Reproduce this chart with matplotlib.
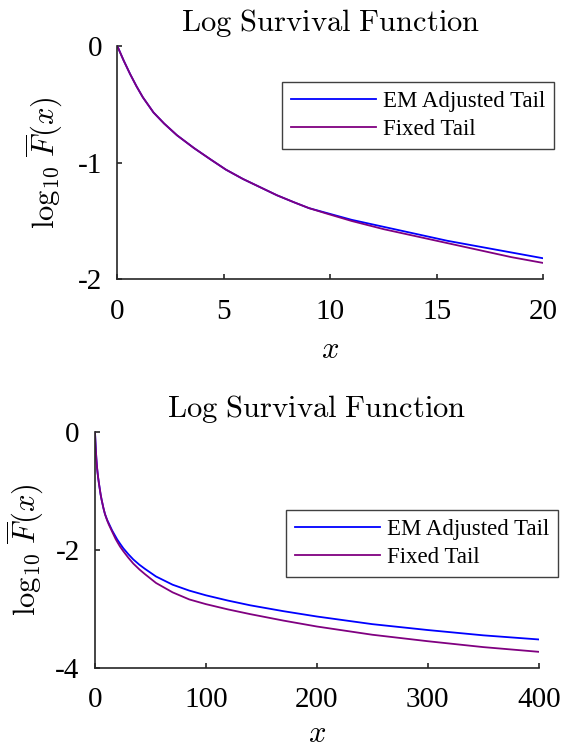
import matplotlib
matplotlib.use("Agg")
import matplotlib.pyplot as plt
import numpy as np

# ------------------------------
# Data
# ------------------------------
x_vals = [0, 0.3, 0.6, 0.9, 1.2, 1.7, 2.2, 2.8, 3.6, 4.4, 5.1, 5.9, 6.7, 7.5, 8.3, 9.0, 9.8,
          11, 12.5, 14, 15.5, 17, 18.5, 20, 22.5, 25.5, 30, 34.5, 40, 45, 55, 70, 85, 100,
          120, 140, 170, 200, 250, 300, 350, 400]
em_tail = [0, -0.125, -0.24, -0.345, -0.44, -0.57, -0.665, -0.765, -0.875, -0.975, -1.06,
           -1.14, -1.21, -1.28, -1.34, -1.39, -1.43,
           -1.49, -1.55, -1.61, -1.67, -1.72, -1.77, -1.82, -1.89, -1.97, -2.07, -2.16,
           -2.25, -2.32, -2.45, -2.59, -2.69, -2.77,
           -2.86, -2.94, -3.04, -3.13, -3.26, -3.36, -3.45, -3.52]
fixed_tail = [0, -0.125, -0.24, -0.345, -0.44, -0.57, -0.665, -0.765, -0.875, -0.975, -1.06,
              -1.14, -1.21, -1.28, -1.34, -1.39, -1.435,
              -1.50, -1.57, -1.63, -1.69, -1.75, -1.81, -1.86, -1.94, -2.02, -2.13, -2.23,
              -2.33, -2.41, -2.56, -2.72, -2.84, -2.92,
              -3.01, -3.09, -3.20, -3.30, -3.44, -3.55, -3.65, -3.73]
labels = ['EM Adjusted Tail', 'Fixed Tail']
colors = ['#0000ff', '#800080']

# ------------------------------
# Style
# ------------------------------
plt.rcParams['font.family'] = ['Liberation Serif', 'DejaVu Serif']
plt.rcParams['mathtext.fontset'] = 'cm'
plt.rcParams['axes.unicode_minus'] = False

W, H = 567, 746
fig = plt.figure(figsize=(W / 100, H / 100), dpi=100)

def px_axes(left, top, right, bottom):
    return fig.add_axes([left / W, 1 - bottom / H, (right - left) / W, (bottom - top) / H])

panels = [
    dict(box=(117.3, 46, 543.3, 279.3), xlim=(0, 20), xticks=[0, 5, 10, 15, 20],
         ylim=(-2, 0), yticks=[0, -1, -2], leg=(282, 82), ylab_right=65, xlab_pad=8),
    dict(box=(95, 432.3, 538.7, 667.7), xlim=(0, 400), xticks=[0, 100, 200, 300, 400],
         ylim=(-4, 0), yticks=[0, -2, -4], leg=(286, 510), ylab_right=46, xlab_pad=5),
]

x = np.array(x_vals)
for p in panels:
    ax = px_axes(*p['box'])
    for series, lab, c in zip([em_tail, fixed_tail], labels, colors):
        ax.plot(x, series, color=c, lw=1.3, label=lab)
    ax.set_xlim(*p['xlim'])
    ax.set_ylim(*p['ylim'])
    ax.set_xticks(p['xticks'])
    ax.set_yticks(p['yticks'])
    ax.set_yticklabels([str(v) for v in p['yticks']])
    for s in ['top', 'right']:
        ax.spines[s].set_visible(False)
    for s in ['left', 'bottom']:
        ax.spines[s].set_linewidth(1.2)
        ax.spines[s].set_color('#262626')
    ax.tick_params(direction='in', length=3.5, width=1.2, color='#262626',
                   labelsize=21, labelcolor='black')
    ax.tick_params(axis='y', pad=11)
    ax.tick_params(axis='x', pad=14)
    ax.set_title(r'$\mathrm{Log\ Survival\ Function}$', fontsize=22, pad=11)
    ax.set_xlabel(r'$x$', fontsize=22, labelpad=p['xlab_pad'])
    ax.set_ylabel(r'$\log_{10}\,\overline{F}(x)$', fontsize=22)
    left = p['box'][0]
    width = p['box'][2] - p['box'][0]
    ax.yaxis.set_label_coords((p['ylab_right'] - left) / width, 0.5)
    lx, ly = p['leg']
    leg = ax.legend(loc='upper left', bbox_to_anchor=(lx / W, 1 - ly / H),
                    bbox_transform=fig.transFigure, borderaxespad=0,
                    fontsize=16.5, handlelength=3.7, handletextpad=0.3,
                    labelspacing=0.3, borderpad=0.4, fancybox=False,
                    framealpha=1, edgecolor='#404040')
    leg.get_frame().set_linewidth(1.0)

plt.savefig('out.png', dpi=100)
